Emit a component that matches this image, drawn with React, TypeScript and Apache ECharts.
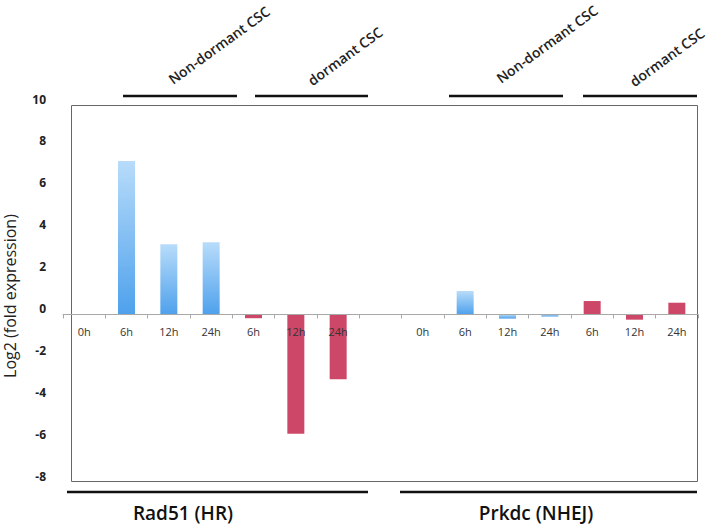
import React, { useEffect, useRef } from "react";
import * as echarts from "echarts";

const categories = ["0h", "6h", "12h", "24h", "6h", "12h", "24h", "", "0h", "6h", "12h", "24h", "6h", "12h", "24h"];
const nonDormant = [0, 7.33, 3.35, 3.45, null, null, null, null, 0, 1.12, -0.2, -0.1, null, null, null];
const dormant = [null, null, null, null, -0.18, -5.7, -3.1, null, null, null, null, null, 0.64, -0.25, 0.56];
const yTicks = { min: -8, max: 10, interval: 2 };
const groupLabels = ["Rad51 (HR)", "Prkdc (NHEJ)"];
const stateLabels = ["Non-dormant CSC", "dormant CSC"];
const yName = "Log2 (fold expression)";

const FONT = "'Open Sans', 'DejaVu Sans', sans-serif";
const GRID = { left: 63, right: 10, top: 105, bottom: 47 };
const H = 529;

export default function App() {
  const ref = useRef<HTMLDivElement>(null);
  useEffect(() => {
    if (!ref.current) return;
    const chart = echarts.init(ref.current, undefined, { renderer: "svg" });
    const rot = (36 * Math.PI) / 180;
    const topText = (text: string, x: number, y: number) => ({
      type: "text",
      x,
      y,
      rotation: rot,
      style: {
        text,
        fill: "#222",
        font: `600 14px ${FONT}`,
        align: "center",
        verticalAlign: "middle",
      },
    });
    const hline = (x1: number, x2: number, y: number) => ({
      type: "line",
      shape: { x1, y1: y, x2, y2: y },
      style: { stroke: "#111", lineWidth: 2.5 },
    });
    chart.setOption({
      animation: false,
      backgroundColor: "#fff",
      grid: { ...GRID, containLabel: false, outerBoundsMode: "none", show: false },
      xAxis: {
        type: "category",
        data: categories,
        boundaryGap: true,
        z: 10,
        axisLine: { onZero: false, lineStyle: { color: "#a8a8a8", width: 1 } },
        axisTick: { show: true, length: 4, lineStyle: { color: "#a8a8a8" } },
        axisLabel: { fontSize: 11, color: "#333", margin: 12, fontFamily: FONT, interval: 0 },
      },
      yAxis: {
        type: "value",
        min: yTicks.min,
        max: yTicks.max,
        interval: yTicks.interval,
        splitLine: { show: false },
        axisLine: { show: false },
        axisTick: { show: false },
        axisLabel: {
          fontSize: 12,
          fontWeight: "bold",
          color: "#222",
          margin: 17,
          fontFamily: FONT,
          verticalAlign: "bottom",
        },
      },
      series: [
        {
          type: "bar",
          data: nonDormant,
          barWidth: 17,
          barGap: "-100%",
          itemStyle: {
            color: new echarts.graphic.LinearGradient(0, 0, 0, 1, [
              { offset: 0, color: "#b8dcfa" },
              { offset: 1, color: "#4ea1ec" },
            ]),
          },
        },
        {
          type: "bar",
          data: dormant,
          barWidth: 17,
          barGap: "-100%",
          itemStyle: { color: "#cd4868" },
        },
      ],
      graphic: [
        {
          type: "rect",
          shape: { x: 71.5, y: 105.5, width: 626, height: 376 },
          style: { fill: "none", stroke: "#666", lineWidth: 1 },
          z: -1,
        },
        {
          type: "text",
          x: 10,
          y: 296,
          rotation: Math.PI / 2,
          style: { text: yName, fill: "#222", font: `400 16px ${FONT}`, align: "center", verticalAlign: "middle" },
        },
        hline(123, 237, 96),
        hline(255, 368, 96),
        hline(449, 563, 96),
        hline(583, 697, 96),
        topText(stateLabels[0], 219, 45),
        topText(stateLabels[1], 345, 56),
        topText(stateLabels[0], 547, 44),
        topText(stateLabels[1], 667, 57),
        hline(67, 368, 492),
        hline(400, 697, 492),
        {
          type: "text",
          x: 183,
          y: 513,
          style: { text: groupLabels[0], fill: "#111", font: `600 19px ${FONT}`, align: "center", verticalAlign: "middle" },
        },
        {
          type: "text",
          x: 536,
          y: 513,
          style: { text: groupLabels[1], fill: "#111", font: `600 19px ${FONT}`, align: "center", verticalAlign: "middle" },
        },
      ],
    });
    const zeroY = chart.convertToPixel({ yAxisIndex: 0 }, 0) as number;
    const bottomY = H - GRID.bottom;
    chart.setOption({ xAxis: { offset: -(bottomY - zeroY) } });
    return () => chart.dispose();
  }, []);
  return <div ref={ref} style={{ position: "fixed", left: 0, top: 0, width: 708, height: 529 }} />;
}
